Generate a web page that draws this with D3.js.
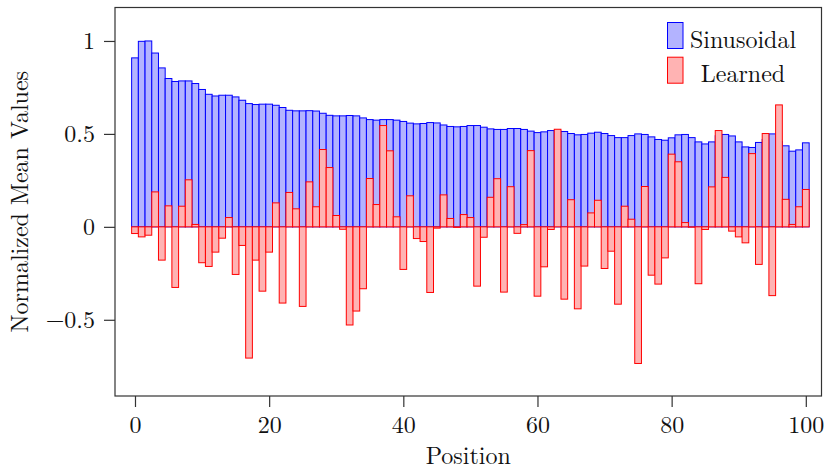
<!DOCTYPE html>
<html>
<head>
<meta charset="utf-8">
<script src="https://cdn.jsdelivr.net/npm/d3@7"></script>
<style>
  html, body { margin: 0; padding: 0; background: #fff; }
</style>
</head>
<body>
<div id="chart"></div>
<script>
// Mean value per position (0..100)
const sinusoidal = [
  0.909, 0.998, 1.000, 0.935, 0.855, 0.798, 0.782, 0.785, 0.785, 0.771,
  0.739, 0.713, 0.704, 0.708, 0.708, 0.699, 0.681, 0.663, 0.658, 0.660,
  0.660, 0.654, 0.642, 0.627, 0.624, 0.624, 0.625, 0.623, 0.611, 0.600,
  0.597, 0.597, 0.599, 0.597, 0.586, 0.577, 0.574, 0.577, 0.577, 0.574,
  0.567, 0.558, 0.554, 0.556, 0.561, 0.559, 0.548, 0.540, 0.538, 0.540,
  0.545, 0.545, 0.536, 0.527, 0.524, 0.524, 0.529, 0.529, 0.524, 0.515,
  0.507, 0.511, 0.518, 0.515, 0.513, 0.502, 0.495, 0.497, 0.504, 0.509,
  0.502, 0.491, 0.480, 0.480, 0.491, 0.500, 0.497, 0.484, 0.470, 0.466,
  0.479, 0.495, 0.497, 0.480, 0.457, 0.446, 0.457, 0.490, 0.497, 0.489,
  0.457, 0.430, 0.427, 0.454, 0.470, 0.500, 0.460, 0.436, 0.407, 0.414,
  0.452
];

const learned = [
  -0.036, -0.054, -0.045, 0.188, -0.179, 0.113, -0.326, 0.111, 0.253, 0.013,
  -0.193, -0.213, -0.136, -0.061, 0.050, -0.256, -0.100, -0.706, -0.179, -0.346,
  -0.136, 0.129, -0.410, 0.185, 0.097, -0.428, 0.242, 0.108, 0.416, 0.319,
  0.061, -0.013, -0.528, -0.453, -0.333, 0.260, 0.120, 0.545, 0.409, 0.054,
  -0.229, 0.167, -0.063, -0.079, -0.353, -0.007, 0.172, 0.045, -0.003, 0.066,
  0.050, -0.319, -0.056, 0.159, 0.259, -0.351, 0.216, -0.035, 0.012, 0.410,
  -0.373, -0.215, -0.014, 0.525, -0.389, 0.146, -0.441, -0.211, 0.075, 0.143,
  -0.224, -0.131, -0.416, 0.111, 0.041, -0.735, 0.217, -0.260, -0.308, -0.167,
  0.391, 0.350, 0.023, -0.002, -0.306, -0.014, 0.215, 0.518, 0.266, -0.023,
  -0.054, -0.086, 0.394, -0.202, 0.502, -0.370, 0.656, 0.148, 0.013, 0.108,
  0.201
];

const seriesNames = ["Sinusoidal", "Learned"];
const xTicks = [0, 20, 40, 60, 80, 100];
const yTicks = [-0.5, 0, 0.5, 1];

const width = 826, height = 466;
const margin = { top: 7.5, right: 4.5, bottom: 70, left: 115 };
const font = '"Latin Modern Roman", "Liberation Serif", serif';
const fontSize = 24;

const svg = d3.select("#chart").append("svg")
  .attr("width", width)
  .attr("height", height);

const x = d3.scaleLinear()
  .domain([-2.98, 102.34])
  .range([margin.left, width - margin.right]);

const y = d3.scaleLinear()
  .domain([-0.91, 1.18])
  .range([height - margin.bottom, margin.top]);

const colors = {
  Sinusoidal: { fill: "#b3b3ff", stroke: "#0000ff" },
  Learned: { fill: "#ffb3b3", stroke: "#ff0000" }
};

// Draw one bar series, centred on each position with unit width
const drawBars = (values, name) => {
  svg.append("g")
    .selectAll("rect")
    .data(values)
    .join("rect")
    .attr("x", (d, i) => x(i - 0.5))
    .attr("width", (d, i) => x(i + 0.5) - x(i - 0.5))
    .attr("y", d => y(Math.max(0, d)))
    .attr("height", d => Math.abs(y(d) - y(0)))
    .attr("fill", colors[name].fill)
    .attr("stroke", colors[name].stroke)
    .attr("stroke-width", 1);
};

drawBars(sinusoidal, "Sinusoidal");
drawBars(learned, "Learned");

// Frame
svg.append("rect")
  .attr("x", x.range()[0])
  .attr("y", y.range()[1])
  .attr("width", x.range()[1] - x.range()[0])
  .attr("height", y.range()[0] - y.range()[1])
  .attr("fill", "none")
  .attr("stroke", "#333")
  .attr("stroke-width", 1.2);

// Axes
const fmt = d => d === 1 ? "1" : d3.format("")(d);

const xAxis = svg.append("g")
  .attr("transform", `translate(0, ${y.range()[0]})`)
  .call(d3.axisBottom(x).tickValues(xTicks).tickSize(11).tickPadding(9));

const yAxis = svg.append("g")
  .attr("transform", `translate(${x.range()[0]}, 0)`)
  .call(d3.axisLeft(y).tickValues(yTicks).tickFormat(fmt).tickSize(11).tickPadding(9));

[xAxis, yAxis].forEach(a => {
  a.attr("font-family", font).attr("font-size", fontSize);
  a.select(".domain").remove();
  a.selectAll(".tick line").attr("stroke", "#333").attr("stroke-width", 1.2);
  a.selectAll(".tick text").attr("fill", "#111");
});

// Axis titles
svg.append("text")
  .attr("x", (x.range()[0] + x.range()[1]) / 2)
  .attr("y", 464)
  .attr("text-anchor", "middle")
  .attr("font-family", font)
  .attr("font-size", fontSize)
  .attr("fill", "#111")
  .text("Position");

svg.append("text")
  .attr("transform", `translate(28, ${(y.range()[0] + y.range()[1]) / 2}) rotate(-90)`)
  .attr("text-anchor", "middle")
  .attr("font-family", font)
  .attr("font-size", fontSize)
  .attr("fill", "#111")
  .text("Normalized Mean Values");

// Legend
const legend = svg.append("g");
seriesNames.forEach((name, i) => {
  legend.append("rect")
    .attr("x", 667.5)
    .attr("y", 22.5 + i * 34.7)
    .attr("width", 15.5)
    .attr("height", 26)
    .attr("fill", colors[name].fill)
    .attr("stroke", colors[name].stroke)
    .attr("stroke-width", 1);
  legend.append("text")
    .attr("x", 743)
    .attr("y", 48.3 + i * 34)
    .attr("text-anchor", "middle")
    .attr("font-family", font)
    .attr("font-size", fontSize)
    .attr("fill", "#111")
    .text(name);
});
</script>
</body>
</html>
